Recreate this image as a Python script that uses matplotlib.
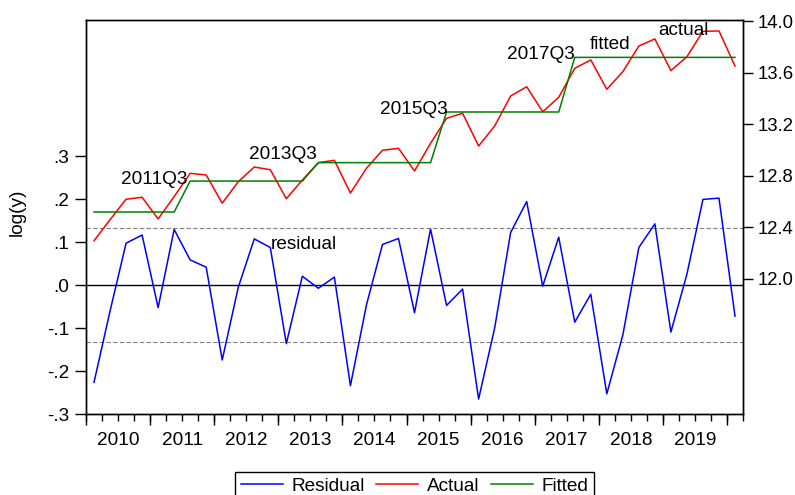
import numpy as np
import matplotlib
matplotlib.use("Agg")
import matplotlib.pyplot as plt
from matplotlib.ticker import FixedLocator, FixedFormatter

plt.rcParams['font.family'] = ['Liberation Sans', 'DejaVu Sans']
plt.rcParams['font.size'] = 13.7

# quarterly data 2010Q1 .. 2020Q1
years = [2010, 2011, 2012, 2013, 2014, 2015, 2016, 2017, 2018, 2019]

actual = [12.297, 12.46, 12.619, 12.634, 12.466, 12.64, 12.820, 12.807, 12.588, 12.755,
          12.869, 12.848, 12.623, 12.768, 12.903, 12.921, 12.667, 12.859, 12.999, 13.014,
          12.838, 13.053, 13.247, 13.286, 13.032, 13.187, 13.420, 13.492, 13.298, 13.410,
          13.635, 13.700, 13.472, 13.609, 13.808, 13.863, 13.617, 13.725, 13.922, 13.925,
          13.653]

fitted = [12.520] * 6 + [12.760] * 8 + [12.903] * 8 + [13.296] * 8 + [13.720] * 11

residual = [-0.226, -0.06, 0.098, 0.117, -0.052, 0.130, 0.059, 0.042, -0.174, -0.005,
            0.108, 0.088, -0.136, 0.021, -0.007, 0.019, -0.234, -0.046, 0.095, 0.109,
            -0.064, 0.131, -0.047, -0.009, -0.265, -0.100, 0.123, 0.195, -0.002, 0.112,
            -0.086, -0.021, -0.253, -0.116, 0.088, 0.143, -0.109, 0.026, 0.200, 0.203,
            -0.072]

se_band = 0.133

# break labels: (text, quarter index, right-axis value)
break_labels = [("2011Q3", 1.67, 12.735), ("2013Q3", 9.67, 12.929),
                ("2015Q3", 17.82, 13.278), ("2017Q3", 25.77, 13.705),
                ("fitted", 30.92, 13.783), ("actual", 35.18, 13.896)]

left_ticks = [-0.3, -0.2, -0.1, 0.0, 0.1, 0.2, 0.3]
left_labels = ['-.3', '-.2', '-.1', '.0', '.1', '.2', '.3']
right_ticks = [12.0, 12.4, 12.8, 13.2, 13.6, 14.0]

n = len(actual)
x = np.arange(n)

fig = plt.figure(figsize=(7.95, 4.95), dpi=100)
ax = fig.add_axes([0.1082, 0.1636, 0.8264, 0.7960])
ax2 = ax.twinx()

ax.axhline(0, color='black', lw=1.0, zorder=1)
ax.axhline(se_band, color='gray', lw=0.8, ls=(0, (4, 2)), zorder=1)
ax.axhline(-se_band, color='gray', lw=0.8, ls=(0, (4, 2)), zorder=1)
l1, = ax.plot(x, residual, color='blue', lw=1.1, label='Residual')
l2, = ax2.plot(x, actual, color='red', lw=1.1, label='Actual')
l3, = ax2.plot(x, fitted, color='green', lw=1.1, label='Fitted')

ax.text(11.0, 0.0846, "residual", ha='left', va='baseline')
for txt, xi, yi in break_labels:
    ax2.text(xi, yi, txt, ha='left', va='baseline')

ax.set_xlim(-0.5, n - 0.5)
ax.set_ylim(-0.3, 0.618)
ax2.set_ylim(10.952, 14.010)

ax.set_yticks(left_ticks)
ax.set_yticklabels(left_labels)
ax2.set_yticks(right_ticks)
ax2.set_yticklabels(['%.1f' % v for v in right_ticks])

# year boundaries as major ticks, quarter boundaries as minor ticks with year labels
bounds = np.arange(-0.5, n, 4)
qbounds = np.arange(-0.5, n + 0.5, 1)
ax.xaxis.set_major_locator(FixedLocator(bounds))
ax.xaxis.set_major_formatter(FixedFormatter([''] * len(bounds)))
ax.xaxis.remove_overlapping_locs = False
ax.xaxis.set_minor_locator(FixedLocator(qbounds))
centers = {b + 2: str(y) for b, y in zip(bounds, years)}
minor_labels = [centers.get(q, '') for q in qbounds]
ax.xaxis.set_minor_formatter(FixedFormatter(minor_labels))

ax.tick_params(axis='x', which='major', direction='out', length=8, width=1)
ax.tick_params(axis='x', which='minor', direction='out', length=5, width=1, pad=8)
ax.tick_params(axis='y', direction='out', length=8, width=1, pad=4)
ax2.tick_params(axis='y', direction='out', length=7, width=1, pad=3.5, labelsize=13.3)

for a in (ax, ax2):
    for s in a.spines.values():
        s.set_linewidth(1.0)
        s.set_color('black')

fig.text(17 / 795, 1 - 212 / 495, "log(y)", rotation=90, ha='center', va='center')

leg = fig.legend([l1, l2, l3], ['Residual', 'Actual', 'Fitted'], loc='upper center',
                 bbox_to_anchor=(0.5214, 0.047), ncol=3, frameon=True, fancybox=False,
                 edgecolor='black', framealpha=1, handlelength=2.2, handletextpad=0.45,
                 columnspacing=0.6, borderpad=0.3, borderaxespad=0)
leg.get_frame().set_linewidth(1.0)

fig.savefig("out.png", dpi=100)
